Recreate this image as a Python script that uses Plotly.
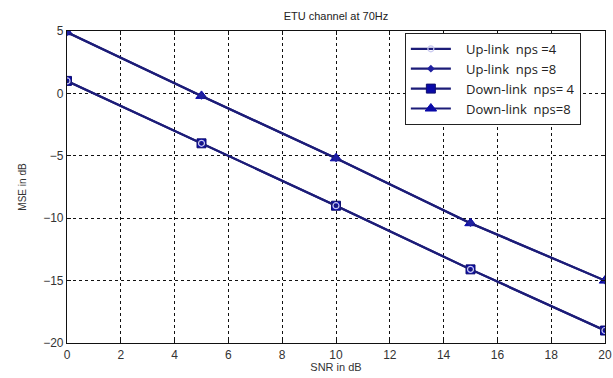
import plotly.graph_objects as go

snr = [0, 5, 10, 15, 20]
up_nps4 = [1.0, -4.0, -9.0, -14.1, -19.0]
up_nps8 = [4.9, -0.2, -5.2, -10.4, -15.0]
down_nps4 = [1.0, -4.0, -9.0, -14.1, -19.0]
down_nps8 = [4.9, -0.2, -5.2, -10.4, -15.0]
names = ["Up-link  nps =4", "Up-link  nps =8", "Down-link  nps= 4", "Down-link  nps=8"]
xticks = list(range(0, 21, 2))
yticks = [5, 0, -5, -10, -15, -20]

line_col = "#1c1c78"
mark_col = "#0a0aa8"
PAD = "\u00a0" * 3

fig = go.Figure()
# down-link traces drawn first, up-link markers on top (legend order via legendrank)
fig.add_trace(go.Scatter(x=snr, y=down_nps4, name=PAD + names[2], mode="lines+markers", legendrank=3,
                         line=dict(color=line_col, width=2.2),
                         marker=dict(symbol="square", size=9, color=mark_col,
                                     line=dict(color="#101070", width=1))))
fig.add_trace(go.Scatter(x=snr, y=down_nps8, name=PAD + names[3], mode="lines+markers", legendrank=4,
                         line=dict(color=line_col, width=2.2),
                         marker=dict(symbol="triangle-up", size=10, color=mark_col,
                                     line=dict(color=mark_col, width=1))))
fig.add_trace(go.Scatter(x=snr, y=up_nps4, name=PAD + names[0], mode="lines+markers", legendrank=1,
                         line=dict(color=line_col, width=2.2),
                         marker=dict(symbol="circle-open", size=6, color="#c8c8f0",
                                     line=dict(width=1.2))))
fig.add_trace(go.Scatter(x=snr, y=up_nps8, name=PAD + names[1], mode="lines+markers", legendrank=2,
                         line=dict(color=line_col, width=2.2),
                         marker=dict(symbol="diamond", size=6, color="#2020a0")))

fig.update_layout(
    width=613, height=378,
    margin=dict(l=67, r=8, t=31, b=35),
    paper_bgcolor="white", plot_bgcolor="white",
    font=dict(family="Liberation Sans, Arial, sans-serif", size=12, color="#333"),
    title=dict(text="ETU channel at 70Hz", x=0.548, xanchor="center", y=0.958, yanchor="middle",
               font=dict(size=11, color="#222")),
    showlegend=True,
    legend=dict(x=0.628, y=0.994, xanchor="left", yanchor="top",
                bgcolor="white", bordercolor="#222", borderwidth=1,
                font=dict(family="Open Sans", size=13, color="#222"), tracegroupgap=0,
                traceorder="normal", itemwidth=40),
)

fig.update_xaxes(range=[0, 20], tickvals=xticks, showgrid=True, gridcolor="#111",
                 griddash="3px,3px", gridwidth=1, zeroline=False, automargin=False,
                 showline=True, linecolor="#111", linewidth=1.2, mirror="ticks",
                 ticks="inside", ticklen=4, tickcolor="#111",
                 title=dict(text="SNR in dB", standoff=2, font=dict(size=11, color="#333")))
fig.update_yaxes(range=[-20, 5], tickvals=yticks, showgrid=True, gridcolor="#111",
                 griddash="3px,3px", gridwidth=1, zeroline=False, automargin=False,
                 showline=True, linecolor="#111", linewidth=1.2, mirror="ticks",
                 ticks="inside", ticklen=4, tickcolor="#111",
                 title=dict(text="MSE in dB", standoff=14, font=dict(size=10, color="#333")))

fig.write_html("out.html")
